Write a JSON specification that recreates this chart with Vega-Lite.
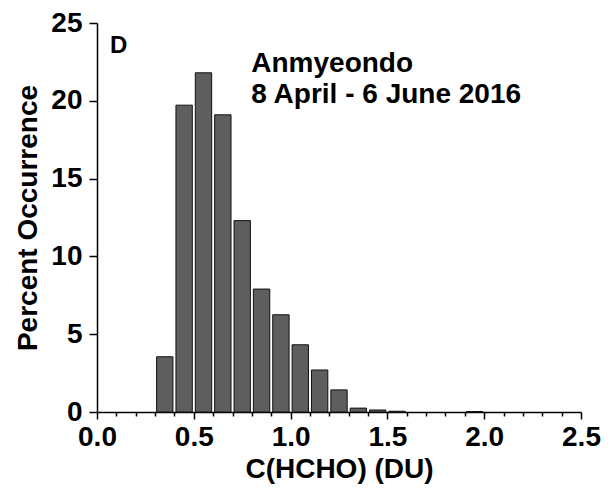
{
  "$schema": "https://vega.github.io/schema/vega-lite/v6.json",
  "autosize": "none",
  "width": 484,
  "height": 389,
  "padding": {"left": 97, "top": 23, "right": 30, "bottom": 84},
  "background": "white",
  "config": {
    "view": {"stroke": null},
    "font": "Liberation Sans",
    "axis": {"labelOverlap": false, "labelBound": false}
  },
  "datasets": {
    "bins": [
      {"start": 0.3, "end": 0.4, "pct": 3.55},
      {"start": 0.4, "end": 0.5, "pct": 19.72},
      {"start": 0.5, "end": 0.6, "pct": 21.8},
      {"start": 0.6, "end": 0.7, "pct": 19.1},
      {"start": 0.7, "end": 0.8, "pct": 12.3},
      {"start": 0.8, "end": 0.9, "pct": 7.9},
      {"start": 0.9, "end": 1.0, "pct": 6.25},
      {"start": 1.0, "end": 1.1, "pct": 4.32},
      {"start": 1.1, "end": 1.2, "pct": 2.7},
      {"start": 1.2, "end": 1.3, "pct": 1.42},
      {"start": 1.3, "end": 1.4, "pct": 0.25},
      {"start": 1.4, "end": 1.5, "pct": 0.13},
      {"start": 1.5, "end": 1.6, "pct": 0.05},
      {"start": 1.9, "end": 2.0, "pct": 0.03}
    ],
    "labels": [
      {"x": 0.067, "y": 23.04, "text": "D", "size": 24},
      {"x": 0.797, "y": 21.86, "text": "Anmyeondo", "size": 28},
      {"x": 0.797, "y": 19.83, "text": "8 April - 6 June 2016", "size": 28}
    ]
  },
  "resolve": {"axis": {"x": "independent"}},
  "layer": [
    {
      "data": {"name": "bins"},
      "mark": {"type": "rect", "fill": "#5e5e5e", "stroke": "#111111", "strokeWidth": 1, "xOffset": 1.5, "x2Offset": -1.5},
      "encoding": {
        "x": {
          "field": "start", "type": "quantitative",
          "scale": {"domain": [0, 2.5], "nice": false, "zero": false},
          "axis": {
            "orient": "bottom",
            "title": "C(HCHO) (DU)",
            "values": [0, 0.5, 1, 1.5, 2, 2.5],
            "format": ".1f",
            "labelOverlap": false,
            "labelFontSize": 28,
            "labelFontWeight": "bold",
            "labelColor": "black",
            "labelPadding": 4,
            "labelFlush": false,
            "tickSize": 7,
            "tickColor": "black",
            "tickWidth": 1.5,
            "domainColor": "black",
            "domainWidth": 1.5,
            "grid": false,
            "titleFontSize": 28,
            "titleFontWeight": "bold",
            "titleColor": "black",
            "titlePadding": 4
          }
        },
        "x2": {"field": "end"},
        "y": {
          "field": "pct", "type": "quantitative",
          "scale": {"domain": [0, 25], "nice": false},
          "axis": {
            "title": "Percent Occurrence",
            "values": [0, 2.5, 5, 7.5, 10, 12.5, 15, 17.5, 20, 22.5, 25],
            "labelExpr": "datum.value % 5 == 0 ? format(datum.value, 'd') : ''",
            "labelOverlap": false,
            "labelFontSize": 28,
            "labelFontWeight": "bold",
            "labelColor": "black",
            "labelPadding": 7,
            "labelFlush": false,
            "tickSize": {"condition": {"test": "datum.value % 5 == 0", "value": 8}, "value": 5},
            "tickColor": "black",
            "tickWidth": 1.5,
            "domainColor": "black",
            "domainWidth": 1.5,
            "grid": false,
            "titleFontSize": 28,
            "titleFontWeight": "bold",
            "titleColor": "black",
            "titlePadding": 8
          }
        },
        "y2": {"datum": 0}
      }
    },
    {
      "data": {"name": "labels"},
      "mark": {"type": "text", "align": "left", "baseline": "alphabetic", "fontWeight": "bold", "color": "black", "font": "Liberation Sans"},
      "encoding": {
        "x": {
          "field": "x", "type": "quantitative",
          "axis": {
            "orient": "bottom",
            "title": null,
            "values": [0.1,0.2,0.3,0.4,0.6,0.7,0.8,0.9,1.1,1.2,1.3,1.4,1.6,1.7,1.8,1.9,2.1,2.2,2.3,2.4],
            "labels": false,
            "domain": false,
            "grid": false,
            "tickSize": 4,
            "tickColor": "black",
            "tickWidth": 1.5
          }
        },
        "y": {"field": "y", "type": "quantitative"},
        "text": {"field": "text"},
        "size": {"field": "size", "type": "quantitative", "scale": null, "legend": null}
      }
    }
  ]
}
